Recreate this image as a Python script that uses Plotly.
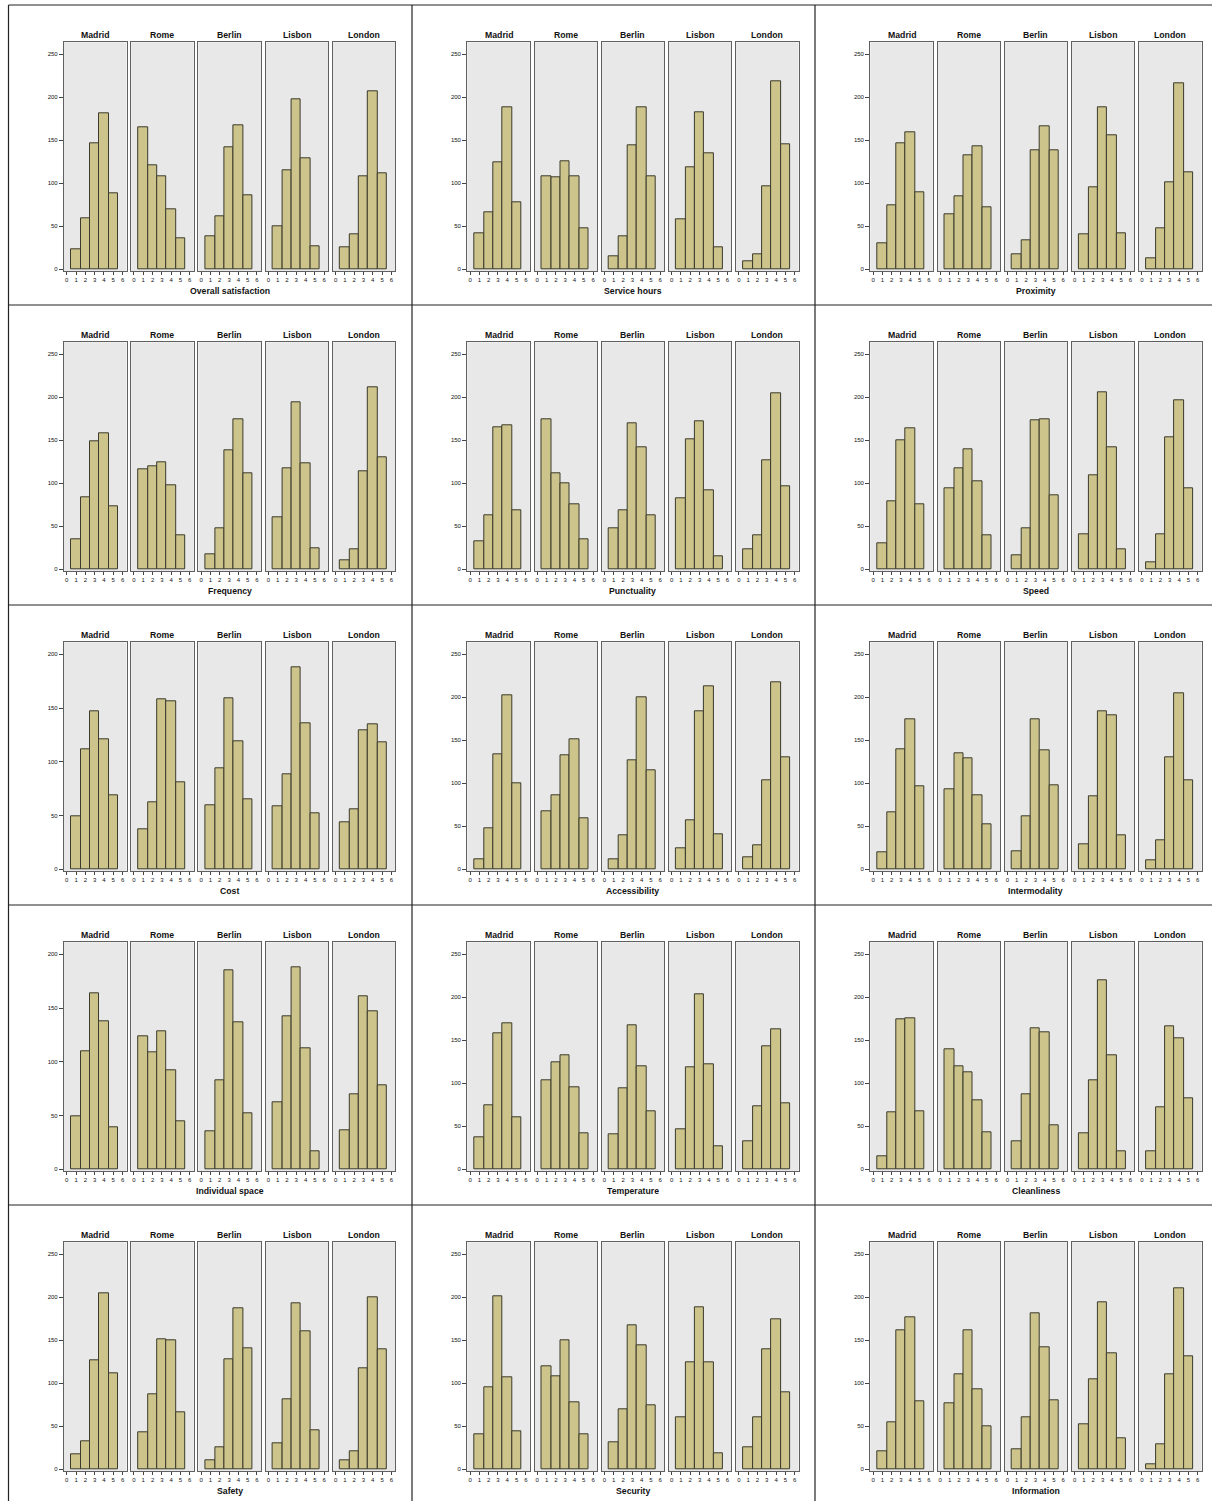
import plotly.graph_objects as go

# ---------------- data ----------------
cities = ["Madrid", "Rome", "Berlin", "Lisbon", "London"]
ratings = [1, 2, 3, 4, 5]
x_tick_values = [0, 1, 2, 3, 4, 5, 6]

variable_names = [
    "Overall satisfaction", "Service hours", "Proximity",
    "Frequency", "Punctuality", "Speed",
    "Cost", "Accessibility", "Intermodality",
    "Individual space", "Temperature", "Cleanliness",
    "Safety", "Security", "Information",
]

# counts per city (Madrid, Rome, Berlin, Lisbon, London) for ratings 1..5
overall_satisfaction = [[23, 59, 146, 182, 88], [165, 121, 108, 70, 36], [38, 62, 142, 167, 86], [50, 115, 198, 129, 27], [26, 41, 108, 207, 112]]
service_hours = [[42, 66, 124, 188, 78], [108, 107, 126, 108, 48], [15, 38, 144, 188, 108], [58, 119, 183, 135, 26], [9, 17, 96, 219, 145]]
proximity = [[30, 74, 147, 159, 89], [64, 85, 132, 143, 72], [18, 34, 138, 166, 138], [41, 95, 188, 156, 42], [13, 48, 101, 216, 113]]
frequency = [[35, 84, 149, 158, 73], [116, 120, 125, 98, 39], [18, 48, 138, 175, 112], [60, 117, 194, 123, 24], [10, 23, 114, 212, 130]]
punctuality = [[33, 63, 165, 168, 69], [175, 112, 100, 76, 35], [48, 69, 170, 142, 63], [83, 151, 172, 92, 15], [23, 40, 127, 205, 97]]
speed = [[30, 79, 150, 164, 76], [94, 117, 139, 102, 40], [16, 48, 173, 174, 86], [41, 109, 206, 142, 23], [8, 41, 153, 197, 94]]
cost = [[49, 112, 147, 121, 69], [37, 62, 158, 156, 81], [60, 94, 159, 119, 65], [59, 88, 188, 136, 52], [44, 56, 129, 135, 118]]
accessibility = [[12, 48, 134, 202, 100], [67, 86, 132, 151, 59], [12, 39, 127, 200, 115], [24, 57, 184, 213, 41], [14, 28, 104, 217, 130]]
intermodality = [[20, 66, 139, 175, 96], [93, 135, 129, 86, 52], [21, 62, 174, 138, 98], [29, 85, 184, 179, 39], [11, 34, 130, 205, 104]]
individual_space = [[49, 110, 164, 138, 39], [124, 109, 128, 92, 45], [35, 83, 185, 137, 52], [62, 142, 188, 113, 17], [36, 70, 161, 147, 78]]
temperature = [[37, 75, 158, 170, 60], [104, 125, 133, 95, 42], [41, 94, 167, 120, 68], [47, 119, 203, 122, 27], [33, 73, 143, 163, 77]]
cleanliness = [[15, 66, 175, 176, 68], [140, 120, 113, 80, 43], [33, 87, 164, 159, 51], [42, 104, 220, 132, 21], [21, 72, 166, 152, 83]]
safety = [[17, 32, 127, 205, 112], [43, 87, 151, 150, 66], [10, 26, 128, 187, 141], [30, 81, 193, 160, 45], [11, 21, 117, 200, 139]]
security = [[41, 95, 201, 107, 44], [120, 108, 150, 78, 41], [31, 70, 168, 144, 74], [61, 124, 188, 125, 19], [25, 60, 140, 175, 90]]
information = [[21, 55, 162, 177, 79], [77, 110, 162, 93, 50], [23, 61, 182, 142, 80], [52, 105, 194, 135, 36], [6, 29, 111, 211, 131]]

variable_counts = [
    overall_satisfaction, service_hours, proximity,
    frequency, punctuality, speed,
    cost, accessibility, intermodality,
    individual_space, temperature, cleanliness,
    safety, security, information,
]
# top tick label of the count axis in each panel
y_axis_max = [250, 250, 250, 250, 250, 250, 200, 250, 250, 200, 250, 250, 250, 250, 250]

# ---------------- layout geometry (pixels) ----------------
W, H = 1212, 1501
COL_X0 = [64.0, 467.3, 870.3]
BOX_STEP = 67.2
BOX_W = 62.5
ROW_STEP = 300.0
BOX_TOP = 42.3
BOX_BOTTOM = 271.0
CITY_TITLE_Y = 35.0
VAR_TITLE_Y = 290.7

BAR_COLOR = "#cdc48b"
BAR_LINE = "#3b3a2c"
BOX_BG = "#e8e8e8"
BOX_LINE = "#606060"
FONT = "Arial, Liberation Sans, sans-serif"


def px_x(x):
    return x / W


def px_y(y):
    return 1 - y / H


fig = go.Figure()
layout = {}
annotations = []
idx = 0
for v, name in enumerate(variable_names):
    r, c = divmod(v, 3)
    ymax = y_axis_max[v]
    counts = variable_counts[v]
    for k, city in enumerate(cities):
        idx += 1
        sfx = "" if idx == 1 else str(idx)
        x0 = COL_X0[c] + k * BOX_STEP
        x1 = x0 + BOX_W
        y0 = BOX_TOP + r * ROW_STEP
        y1 = BOX_BOTTOM + r * ROW_STEP
        fig.add_trace(go.Bar(
            x=ratings, y=counts[k], width=1,
            marker=dict(color=BAR_COLOR, line=dict(color=BAR_LINE, width=1)),
            xaxis="x" + sfx, yaxis="y" + sfx, showlegend=False, hoverinfo="skip",
        ))
        layout["xaxis" + sfx] = dict(
            domain=[px_x(x0), px_x(x1)], anchor="y" + sfx,
            range=[-0.3, 6.42], tickvals=x_tick_values, ticks="outside",
            ticklen=2.5, tickwidth=0.8, tickcolor="#444",
            tickfont=dict(family=FONT, size=6, color="#111"),
            showline=True, mirror=True, linecolor=BOX_LINE, linewidth=1.3,
            showgrid=False, zeroline=False, fixedrange=True,
        )
        first = k == 0
        layout["yaxis" + sfx] = dict(
            domain=[px_y(y1), px_y(y0)], anchor="x" + sfx,
            range=[-2 * ymax / 250, 264 * ymax / 250],
            tickvals=list(range(0, ymax + 1, 50)),
            ticks="outside" if first else "", ticklen=4, tickwidth=0.8, tickcolor="#444",
            showticklabels=first,
            tickfont=dict(family=FONT, size=6, color="#111"),
            showline=True, mirror=True, linecolor=BOX_LINE, linewidth=1.3,
            showgrid=False, zeroline=False, fixedrange=True,
        )
        annotations.append(dict(
            x=px_x((x0 + x1) / 2), y=px_y(CITY_TITLE_Y + r * ROW_STEP),
            xref="paper", yref="paper", text="<b>%s</b>" % city, showarrow=False,
            xanchor="center", yanchor="middle",
            font=dict(family=FONT, size=8.7, color="#111"),
        ))
    cx = (COL_X0[c] + COL_X0[c] + 4 * BOX_STEP + BOX_W) / 2
    annotations.append(dict(
        x=px_x(cx), y=px_y(VAR_TITLE_Y + r * ROW_STEP),
        xref="paper", yref="paper", text="<b>%s</b>" % name, showarrow=False,
        xanchor="center", yanchor="middle",
        font=dict(family=FONT, size=8.7, color="#111"),
    ))

# panel separators
shapes = []
SEP = dict(color="#222", width=1.2)
for xv in [8.5, 412, 815]:
    shapes.append(dict(type="line", xref="paper", yref="paper",
                       x0=px_x(xv), x1=px_x(xv), y0=px_y(5), y1=px_y(H), line=SEP))
for yv in [5, 305, 605, 905, 1205]:
    shapes.append(dict(type="line", xref="paper", yref="paper",
                       x0=px_x(8.5), x1=px_x(W), y0=px_y(yv), y1=px_y(yv), line=SEP))

fig.update_layout(
    **layout,
    annotations=annotations,
    shapes=shapes,
    width=W, height=H,
    margin=dict(l=0, r=0, t=0, b=0),
    paper_bgcolor="white",
    plot_bgcolor=BOX_BG,
    bargap=0,
)

fig.write_html("out.html", config={"displayModeBar": False},
               post_script="document.body.style.margin='0';document.body.style.overflow='hidden';")
